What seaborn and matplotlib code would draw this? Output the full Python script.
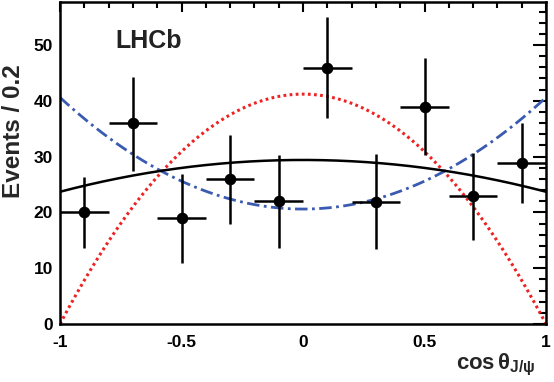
import numpy as np
import pandas as pd
import matplotlib
matplotlib.use("Agg")
import matplotlib.pyplot as plt
from matplotlib.ticker import FixedLocator, MultipleLocator, FixedFormatter
import seaborn as sns

# -----------------------------
# data
# -----------------------------
bin_centers = [-0.9, -0.7, -0.5, -0.3, -0.1, 0.1, 0.3, 0.5, 0.7, 0.9]
events = [20.0, 36.0, 19.0, 25.9, 22.0, 45.9, 21.9, 38.9, 23.0, 28.9]
err_low = [6.4, 8.5, 8.1, 7.9, 8.4, 9.0, 8.5, 8.6, 7.9, 7.2]
err_high = [6.3, 8.3, 7.9, 8.0, 8.3, 9.2, 8.6, 8.7, 7.7, 7.2]
bin_half_width = [0.1] * 10

# fit curves, y = c0 + c2 * cos^2
total_coef = [29.4, -5.7]
red_coef = [41.2, -41.2]
blue_coef = [20.6, 20.0]

xtick_vals = [-1, -0.5, 0, 0.5, 1]
xtick_labels = ["-1", "-0.5", "0", "0.5", "1"]
ytick_vals = [0, 10, 20, 30, 40, 50]
ytick_labels = ["0", "10", "20", "30", "40", "50"]

sns.set_style("white")
plt.rcParams["font.family"] = ["Liberation Sans", "DejaVu Sans"]
plt.rcParams["font.weight"] = "bold"
plt.rcParams["mathtext.fontset"] = "custom"
plt.rcParams["mathtext.rm"] = "Liberation Sans"
plt.rcParams["mathtext.it"] = "Liberation Sans:italic"
plt.rcParams["mathtext.bf"] = "Liberation Sans:bold"
plt.rcParams["axes.unicode_minus"] = False

fig = plt.figure(figsize=(5.54, 3.82), dpi=100)
ax = fig.add_axes([60 / 554, 1 - 324 / 382, 486 / 554, 322.5 / 382])

# curves
cx = np.linspace(-1, 1, 301)
curves = pd.DataFrame({
    "x": np.concatenate([cx, cx, cx]),
    "y": np.concatenate([
        red_coef[0] + red_coef[1] * cx**2,
        blue_coef[0] + blue_coef[1] * cx**2,
        total_coef[0] + total_coef[1] * cx**2,
    ]),
    "comp": ["red"] * len(cx) + ["blue"] * len(cx) + ["total"] * len(cx),
})
sns.lineplot(data=curves[curves.comp == "red"], x="x", y="y", ax=ax,
             color="#ee2222", lw=2.2, linestyle=(0, (0.9, 1.1)))
sns.lineplot(data=curves[curves.comp == "blue"], x="x", y="y", ax=ax,
             color="#3a5bb0", lw=2.0, linestyle=(0, (4.5, 1.6, 1.0, 1.6)))
sns.lineplot(data=curves[curves.comp == "total"], x="x", y="y", ax=ax,
             color="black", lw=1.8)

# data points
ax.errorbar(bin_centers, events, xerr=bin_half_width, yerr=[err_low, err_high],
            fmt="none", ecolor="black", elinewidth=1.8, capsize=0, zorder=4)
pts = pd.DataFrame({"x": bin_centers, "y": events})
sns.scatterplot(data=pts, x="x", y="y", ax=ax, color="black", s=70,
                edgecolor="black", linewidth=0, zorder=5)

ax.set_xlim(-1, 1)
ax.set_ylim(0, 57.8)

ax.xaxis.set_major_locator(FixedLocator(xtick_vals))
ax.xaxis.set_major_formatter(FixedFormatter(xtick_labels))
ax.xaxis.set_minor_locator(MultipleLocator(0.1))
ax.yaxis.set_major_locator(FixedLocator(ytick_vals))
ax.yaxis.set_major_formatter(FixedFormatter(ytick_labels))
ax.yaxis.set_minor_locator(MultipleLocator(2))

ax.tick_params(axis="both", which="both", direction="in", top=True, right=True,
               width=1.5, colors="black", labelsize=12.5)
ax.tick_params(axis="x", which="major", length=7.5, pad=8)
ax.tick_params(axis="x", which="minor", length=4.3)
ax.tick_params(axis="y", which="major", length=9.5, pad=5)
ax.tick_params(axis="y", which="minor", length=5)
for s in ax.spines.values():
    s.set_linewidth(1.8)
    s.set_color("black")

ax.set_xlabel(r"$\mathbf{cos}\,\mathrm{\theta}_{\mathbf{J/\psi}}$", fontsize=16,
              loc="right")
ax.xaxis.set_label_coords(0.978, -0.085)
ax.set_ylabel("")
fig.text(2 / 554, 1 - 64 / 382, "Events / 0.2", rotation=90, fontsize=17.5,
         fontweight="bold", ha="left", va="top")

ax.text(0.113, 0.856, "LHCb", transform=ax.transAxes, fontsize=18,
        fontweight="bold", ha="left", va="baseline", color="#222222")

fig.savefig("out.png", dpi=100)
